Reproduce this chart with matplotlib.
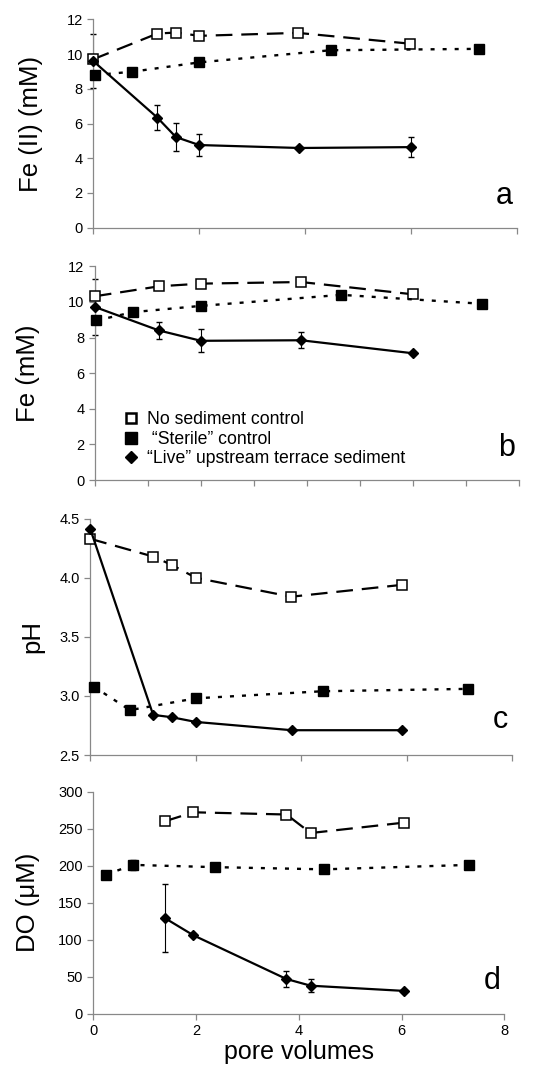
import numpy as np
import matplotlib
matplotlib.use("Agg")
import matplotlib.pyplot as plt
from matplotlib.ticker import MultipleLocator, FormatStrFormatter
from matplotlib.lines import Line2D

plt.rcParams['font.family'] = ['Liberation Sans', 'DejaVu Sans']

# panel a: Fe(II)
a_open_x = [0.0, 1.21, 1.56, 2.0, 3.86, 5.97]
a_open_y = [9.7, 11.18, 11.24, 11.05, 11.22, 10.6]
a_fill_x = [0.03, 0.73, 2.0, 4.48, 7.28]
a_fill_y = [8.79, 8.98, 9.52, 10.22, 10.3]
a_live_x = [0.0, 1.21, 1.56, 2.0, 3.89, 6.0]
a_live_y = [9.6, 6.34, 5.22, 4.76, 4.59, 4.64]
a_live_err = [1.55, 0.74, 0.8, 0.62, 0.0, 0.57]

# panel b: total Fe
b_open_x = [0.0, 1.21, 2.0, 3.89, 6.0]
b_open_y = [10.32, 10.88, 11.03, 11.12, 10.43]
b_fill_x = [0.03, 0.72, 2.0, 4.65, 7.3]
b_fill_y = [8.96, 9.43, 9.78, 10.4, 9.9]
b_live_x = [0.0, 1.21, 2.0, 3.89, 6.0]
b_live_y = [9.72, 8.4, 7.82, 7.85, 7.12]
b_live_err = [1.55, 0.5, 0.65, 0.45, 0.0]

# panel c: pH
c_open_x = [0.0, 1.19, 1.54, 2.0, 3.81, 5.9]
c_open_y = [4.33, 4.18, 4.11, 4.0, 3.84, 3.94]
c_fill_x = [0.06, 0.75, 2.0, 4.41, 7.16]
c_fill_y = [3.08, 2.88, 2.98, 3.04, 3.06]
c_live_x = [0.0, 1.19, 1.54, 2.0, 3.82, 5.91]
c_live_y = [4.41, 2.84, 2.82, 2.78, 2.71, 2.71]

# panel d: DO
d_open_x = [1.40, 1.95, 3.76, 4.23, 6.04]
d_open_y = [260, 272, 269, 244, 258]
d_fill_x = [0.25, 0.78, 2.36, 4.49, 7.31]
d_fill_y = [188, 201, 198, 195, 201]
d_fill_err = [0, 7, 0, 0, 0]
d_live_x = [1.40, 1.95, 3.76, 4.23, 6.04]
d_live_y = [129, 106, 47, 38, 31]
d_live_err = [46, 0, 11, 9, 0]

labels = ["No sediment control", " \u201cSterile\u201d control",
          "\u201cLive\u201d upstream terrace sediment"]

fig = plt.figure(figsize=(5.58, 10.74), dpi=100)
boxes = [(0.167, 0.788, 0.76, 0.194),
         (0.170, 0.553, 0.76, 0.199),
         (0.162, 0.297, 0.756, 0.220),
         (0.167, 0.056, 0.737, 0.207)]
axs = [fig.add_axes(b) for b in boxes]

def draw(ax, ox, oy, fx, fy, lx, ly, lerr=None, ferr=None):
    ax.plot(ox, oy, color='black', lw=1.6, dashes=(7.5, 4), marker='s', ms=7.5,
            mfc='white', mec='black', mew=1.1, zorder=3)
    ax.plot(fx, fy, color='black', lw=1.7, dashes=(1.7, 3.4), marker='s', ms=7.8,
            mfc='black', mec='black', zorder=3)
    if ferr is not None:
        ax.errorbar(fx, fy, yerr=ferr, fmt='none', ecolor='black', elinewidth=0.8, capsize=2.5, zorder=2)
    ax.plot(lx, ly, color='black', lw=1.6, marker='D', ms=5.5, mfc='black', mec='black', zorder=3)
    if lerr is not None:
        ax.errorbar(lx, ly, yerr=lerr, fmt='none', ecolor='black', elinewidth=0.8, capsize=2.5, zorder=2)

draw(axs[0], a_open_x, a_open_y, a_fill_x, a_fill_y, a_live_x, a_live_y, a_live_err)
draw(axs[1], b_open_x, b_open_y, b_fill_x, b_fill_y, b_live_x, b_live_y, b_live_err)
draw(axs[2], c_open_x, c_open_y, c_fill_x, c_fill_y, c_live_x, c_live_y)
draw(axs[3], d_open_x, d_open_y, d_fill_x, d_fill_y, d_live_x, d_live_y, d_live_err, d_fill_err)

ylims = [(0, 12), (0, 12), (2.5, 4.5), (0, 300)]
ysteps = [2, 2, 0.5, 50]
ylabels = ["Fe (II) (mM)", "Fe (mM)", "pH", "DO (\u03bcM)"]
letters = ["a", "b", "c", "d"]
xsteps = [2, 1, 2, 2]
pads = [17, 20, 11, 13]
for i, ax in enumerate(axs):
    ax.set_xlim(0, 8)
    ax.set_ylim(*ylims[i])
    ax.yaxis.set_major_locator(MultipleLocator(ysteps[i]))
    ax.xaxis.set_major_locator(MultipleLocator(xsteps[i]))
    if i == 2:
        ax.yaxis.set_major_formatter(FormatStrFormatter('%.1f'))
    for s in ['top', 'right']:
        ax.spines[s].set_visible(False)
    for s in ['left', 'bottom']:
        ax.spines[s].set_color('#888888')
        ax.spines[s].set_linewidth(0.9)
    ax.tick_params(colors='#888888', labelcolor='black', labelsize=10.5, length=4, width=0.9)
    ax.set_ylabel(ylabels[i], fontsize=18.5, labelpad=pads[i])
    ax.text(0.99, 0.15, letters[i], transform=ax.transAxes, fontsize=22,
            ha='right', va='center')
    for art in ax.lines:
        art.set_clip_on(False)
    if i < 3:
        ax.tick_params(axis='x', labelbottom=False)

axs[3].set_xlabel("pore volumes", fontsize=18, labelpad=1)

h = [Line2D([], [], ls='none', marker='s', ms=7.5, mfc='white', mec='black', mew=1.8),
     Line2D([], [], ls='none', marker='s', ms=8, mfc='black', mec='black'),
     Line2D([], [], ls='none', marker='D', ms=6, mfc='black', mec='black')]
axs[1].legend(h, labels, loc='lower left', bbox_to_anchor=(0.035, 0.01), frameon=False,
              fontsize=12.7, handletextpad=0.3, labelspacing=0.15, handlelength=1.2,
              borderaxespad=0.2)

fig.savefig("out.png", dpi=100)
